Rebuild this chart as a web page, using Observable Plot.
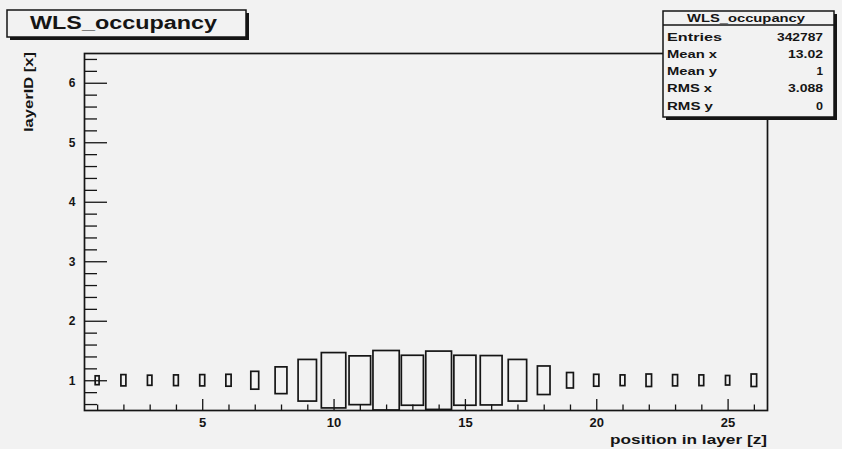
<!DOCTYPE html>
<html>
<head>
<meta charset="utf-8">
<script src="https://cdn.jsdelivr.net/npm/d3@7"></script>
<script src="https://cdn.jsdelivr.net/npm/@observablehq/plot@0.6"></script>
<style>
  html, body { margin: 0; padding: 0; background: #f2f2f2; }
  #chart { width: 842px; height: 449px; overflow: hidden; }
</style>
</head>
<body>
<div id="chart"></div>
<script>
// ---- data ----
const positions = [1, 2, 3, 4, 5, 6, 7, 8, 9, 10, 11, 12, 13, 14, 15, 16, 17, 18, 19, 20, 21, 22, 23, 24, 25, 26];
const layerIDs  = [1, 1, 1, 1, 1, 1, 1, 1, 1, 1, 1, 1, 1, 1, 1, 1, 1, 1, 1, 1, 1, 1, 1, 1, 1, 1];
const counts    = [1000, 1620, 1300, 1460, 1620, 1800, 4050, 9110, 22050, 38920, 30260, 45000, 31750,
                   43220, 31750, 31000, 22050, 10370, 3040, 1800, 1460, 1980, 1620, 1460, 1150, 1980];
const xTickLabels = [5, 10, 15, 20, 25];
const yTickLabels = [1, 2, 3, 4, 5, 6];
const titleText = "WLS_occupancy";
const xTitle = "position in layer [z]";
const yTitle = "layerID [x]";
const statsNames  = ["Entries", "Mean x", "Mean y", "RMS x", "RMS y"];
const statsValues = ["342787", "13.02", "1", "3.088", "0"];

// ---- layout ----
const W = 842, H = 449;
const mL = 84, mR = 75, mT = 53, mB = 39;
const xDomain = [0.5, 26.5], yDomain = [0.5, 6.5];
const pxPerX = (W - mL - mR) / (xDomain[1] - xDomain[0]);
const pxPerY = (H - mT - mB) / (yDomain[1] - yDomain[0]);
const ink = "#151515";
const bg = "#f2f2f2";
const font = "'Liberation Sans', Arial, Helvetica, sans-serif";

const cmax = d3.max(counts);
const cells = positions.map((x, i) => ({x, y: layerIDs[i], c: counts[i], f: Math.sqrt(counts[i] / cmax)}));

const xMinor = positions.filter(d => !xTickLabels.includes(d));
const yMinor = d3.range(0.6, 6.5, 0.2).map(v => Math.round(v * 10) / 10).filter(v => Math.abs(v - Math.round(v)) > 1e-6);

const chart = Plot.plot({
  width: W, height: H,
  marginLeft: mL, marginRight: mR, marginTop: mT, marginBottom: mB,
  style: {background: "transparent", fontFamily: font, color: ink},
  x: {domain: xDomain, axis: null},
  y: {domain: yDomain, axis: null},
  marks: [
    Plot.rect(cells, {
      x1: d => d.x - d.f / 2, x2: d => d.x + d.f / 2,
      y1: d => d.y - d.f / 2, y2: d => d.y + d.f / 2,
      fill: "none", stroke: ink, strokeWidth: 1.7
    }),
    // x axis ticks (inward)
    Plot.ruleX(xTickLabels, {x: d => d, y1: () => yDomain[0], y2: () => yDomain[0] + 11 / pxPerY, stroke: ink, strokeWidth: 1.3}),
    Plot.ruleX(xMinor, {x: d => d, y1: () => yDomain[0], y2: () => yDomain[0] + 5.5 / pxPerY, stroke: ink, strokeWidth: 1.3}),
    // y axis ticks (inward)
    Plot.ruleY(yTickLabels, {y: d => d, x1: () => xDomain[0], x2: () => xDomain[0] + 23 / pxPerX, stroke: ink, strokeWidth: 1.3}),
    Plot.ruleY(yMinor, {y: d => d, x1: () => xDomain[0], x2: () => xDomain[0] + 13 / pxPerX, stroke: ink, strokeWidth: 1.3}),
    // tick labels
    Plot.text(xTickLabels, {x: d => d, y: () => yDomain[0], dy: 12.5, text: d => String(d), fontSize: 13, fontWeight: "bold", fill: ink}),
    Plot.text(yTickLabels, {x: () => xDomain[0], y: d => d, dx: -9, text: d => String(d), textAnchor: "end", fontSize: 12, fontWeight: "bold", fill: ink}),
    Plot.frame({stroke: ink, strokeWidth: 1.7})
  ]
});
document.getElementById("chart").appendChild(chart);

// ---- overlays: title box, stats box, axis titles ----
const svg = d3.select(chart);
const g = svg.append("g").attr("font-family", font).attr("font-weight", "bold").attr("fill", ink)
  .attr("text-anchor", "start").style("text-anchor", "start");

function stretchedText(parent, str, x, y, size, length, anchor) {
  let x0 = x;
  if (anchor === "end") x0 = x - length;
  if (anchor === "middle") x0 = x - length / 2;
  return parent.append("text").attr("x", x0).attr("y", y).attr("font-size", size)
    .style("text-anchor", "start")
    .attr("textLength", length).attr("lengthAdjust", "spacingAndGlyphs").text(str);
}

// title pave
g.append("rect").attr("x", 10).attr("y", 13).attr("width", 239).attr("height", 27).attr("fill", ink);
g.append("rect").attr("x", 7).attr("y", 10).attr("width", 239).attr("height", 27).attr("fill", bg).attr("stroke", ink).attr("stroke-width", 1.5);
stretchedText(g, titleText, 30, 28.5, 18, 187, "start");

// stats box
g.append("rect").attr("x", 666).attr("y", 14).attr("width", 171).attr("height", 106).attr("fill", ink);
g.append("rect").attr("x", 663).attr("y", 11).attr("width", 171).attr("height", 106).attr("fill", bg).attr("stroke", ink).attr("stroke-width", 1.5);
g.append("line").attr("x1", 663).attr("x2", 834).attr("y1", 25).attr("y2", 25).attr("stroke", ink).attr("stroke-width", 1.3);
stretchedText(g, titleText, 746, 21.5, 10, 118, "middle");
const rowY = [37, 53.5, 70.5, 88, 106];
const nameLen = [55, 50, 50, 45, 46];
const valLen = [46, 35, 6.5, 35, 7];
statsNames.forEach((s, i) => stretchedText(g, s, 667, rowY[i] + 4, 11, nameLen[i], "start"));
statsValues.forEach((s, i) => stretchedText(g, s, 823, rowY[i] + 4, 11, valLen[i], "end"));

// axis titles
stretchedText(g, xTitle, 767, 444, 13, 157, "end");
const yt = g.append("g").attr("transform", "translate(33,132) rotate(-90)");
stretchedText(yt, yTitle, 0, 0, 13, 80, "start");
</script>
</body>
</html>
